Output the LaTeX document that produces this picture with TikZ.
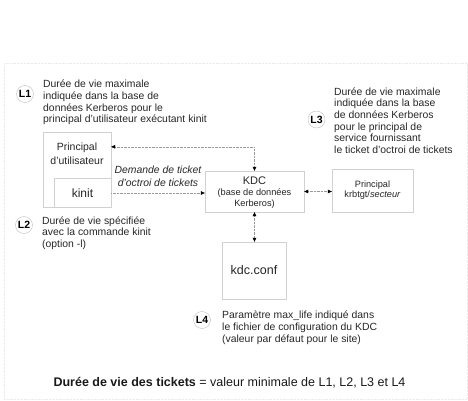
\documentclass[tikz,border=0pt]{standalone}
\usepackage{fontspec}
\setmainfont{Liberation Sans}
\usetikzlibrary{arrows.meta,positioning}
\tikzset{box/.style={draw=black!18,fill=white,inner sep=0pt},
 tip/.tip={Triangle[length=4pt,width=3.6pt,color=black]},
 lk/.style={draw=black!40,densely dotted,-tip},
 lkk/.style={draw=black!40,densely dotted,tip-tip},
 lab/.style={circle,draw=black!25,fill=white,minimum size=17pt,inner sep=0pt,font=\bfseries\fontsize{10.5}{12}\selectfont},
 note/.style={align=left,inner sep=0pt,font=\fontsize{10.4}{11.7}\selectfont,text=black!85},
 btxt/.style={align=center,inner sep=0pt,text=black!85}}
\begin{document}
\begin{tikzpicture}[x=1pt,y=-1pt]
\useasboundingbox (0,0) rectangle (468,401);
\draw[draw=black!8,densely dotted,line width=0.4pt] (4,63) rectangle (467,399);
% boxes
\node[box,minimum width=68pt,minimum height=75pt] (princ) at (77,169.5) {};
\node[btxt,anchor=base,font=\fontsize{10.5}{13.5}\selectfont] (princt) at (77,164) {Principal\\d'utilisateur};
\node[box,minimum width=57pt,minimum height=29pt,font=\fontsize{12}{14}\selectfont,text=black!85] (kinit) at (82.5,193) {kinit};
\node[box,minimum width=99pt,minimum height=41pt] (kdc) at (254.5,191.5) {};
\node[btxt,anchor=base,font=\fontsize{9.2}{11}\selectfont] (kdct) at (254.5,206) {{\fontsize{11}{11}\selectfont KDC}\\(base de données\\Kerberos)};
\node[box,minimum width=81pt,minimum height=43pt] (tgt) at (372.5,190.5) {};
\node[btxt,anchor=base,font=\fontsize{9.2}{10.5}\selectfont] (tgtt) at (372.5,197.5) {Principal\\krbtgt/\textit{secteur}};
\node[box,minimum width=64pt,minimum height=57pt,font=\fontsize{12.5}{14}\selectfont,text=black!85] (conf) at (254,270.5) {kdc.conf};
% connectors
\draw[lkk] ([yshift=-15pt]princ.north east) -| (kdc.north);
\draw[lk] (kinit.east) -- (kinit.east -| kdc.west) node[midway,above=3pt,align=center,font=\fontsize{10.4}{12.5}\selectfont\itshape,text=black!85] (req) {Demande de ticket\\d'octroi de tickets};
\draw[lkk] (kdc.east) -- (kdc.east -| tgt.west);
\draw[lkk] (kdc.south) -- (kdc.south |- conf.north);
% labels
\node[lab] (l1) at (25,94) {L1};
\node[note,anchor=base west] (n1) at (43,123) {Durée de vie maximale\\indiquée dans la base de\\données Kerberos pour le\\principal d'utilisateur exécutant kinit};
\node[lab] (l2) at (24,225) {L2};
\node[note,anchor=base west] (n2) at (42,247.5) {Durée de vie spécifiée\\avec la commande kinit\\(option -l)};
\node[lab] (l3) at (316.5,119.5) {L3};
\node[note,anchor=base west] (n3) at (334,153.5) {Durée de vie maximale\\indiquée dans la base\\de données Kerberos\\pour le principal de\\service fournissant\\le ticket d'octroi de tickets};
\node[lab] (l4) at (202,320) {L4};
\node[note,anchor=base west] (n4) at (222,342) {Paramètre max\_life indiqué dans\\le fichier de configuration du KDC\\(valeur par défaut pour le site)};
\node[font=\fontsize{12.5}{14}\selectfont,text=black!90] (total) at (229.5,383) {\textbf{Durée de vie des tickets} = valeur minimale de L1, L2, L3 et L4};
\end{tikzpicture}
\end{document}
